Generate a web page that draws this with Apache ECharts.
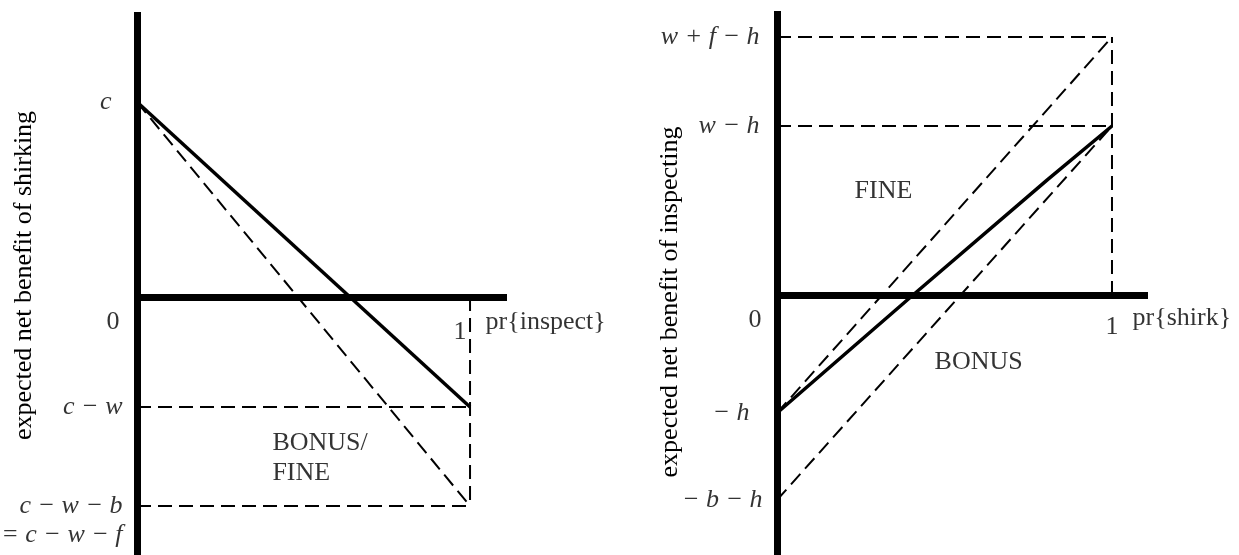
<!DOCTYPE html>
<html lang="en" style="height: 100%">
<head>
    <meta charset="utf-8">
</head>
<body style="height: 100%; margin: 0; background: #fff">
<div id="main" style="width: 1239px; height: 555px"></div>

<script type="text/javascript" src="https://cdn.jsdelivr.net/npm/echarts@6/dist/echarts.min.js"></script>

<script type="text/javascript">
    // left panel: pr{inspect} -> expected net benefit of shirking
    var inspectX = [0, 1];
    var shirkNet = [6.5, -3.667];          // solid line, c -> c - w
    var shirkNetFine = [6.5, -6.967];      // dashed line, c -> c - w - b
    var leftLevels = [6.5, -3.667, -6.967];
    var leftLevelLabels = ['c', 'c − w', 'c − w − b'];
    var leftExtraLabel = '= c − w − f';

    // right panel: pr{shirk} -> expected net benefit of inspecting
    var shirkX = [0, 0.406, 0.806, 1];
    var inspectNet = [-3.933, 0, 3.83, 5.633];   // solid
    var fineX = [0, 1];
    var inspectNetFine = [-3.933, 8.6];    // dashed, -h -> w + f - h
    var inspectNetBonus = [-6.833, 5.633]; // dashed, -b - h -> w - h
    var rightLevels = [8.6, 5.633, -3.933, -6.833];
    var rightLevelLabels = ['w + f − h', 'w − h', '− h', '− b − h'];

    var FONT = 'Liberation Serif';
    var solid = { color: '#000', width: 3.5 };
    var dashed = { color: '#000', width: 2, type: [14, 7] };

    function zip(xs, ys) {
        return xs.map(function (x, i) { return [x, ys[i]]; });
    }

    function line(grid, data, style) {
        return {
            type: 'line',
            xAxisIndex: grid,
            yAxisIndex: grid,
            data: data,
            showSymbol: false,
            lineStyle: style,
            silent: true,
            z: 3
        };
    }

    function note(x, y, text, label) {
        return { value: [x, y], name: text, label: label };
    }

    function notes(grid, data) {
        return {
            type: 'scatter',
            xAxisIndex: grid,
            yAxisIndex: grid,
            symbolSize: 1,
            itemStyle: { color: 'rgba(0,0,0,0)' },
            silent: true,
            z: 5,
            label: {
                show: true,
                formatter: '{b}',
                color: '#000',
                fontFamily: FONT,
                fontSize: 26
            },
            data: data
        };
    }

    var italic = function (pos, dist, extra) {
        var l = { position: pos, distance: dist, fontStyle: 'italic' };
        for (var k in extra) l[k] = extra[k];
        return l;
    };

    // padding shifts the rotated name along the axis
    function axisPair(grid, xmax, ymin, ymax, name, nameGap, namePad) {
        var lineStyle = { color: '#000', width: 7, cap: 'butt' };
        return {
            x: {
                type: 'value', gridIndex: grid, min: 0, max: xmax,
                axisLine: { show: true, onZero: true, lineStyle: lineStyle },
                axisTick: { show: false }, axisLabel: { show: false }, splitLine: { show: false }
            },
            y: {
                type: 'value', gridIndex: grid, min: ymin, max: ymax,
                name: name, nameLocation: 'middle', nameGap: nameGap, nameRotate: 90,
                nameTextStyle: { fontFamily: FONT, fontSize: 26, color: '#000', padding: namePad },
                axisLine: { show: true, onZero: true, lineStyle: lineStyle },
                axisTick: { show: false }, axisLabel: { show: false }, splitLine: { show: false }
            }
        };
    }

    var a0 = axisPair(0, 1.111, -8.6, 9.5, 'expected net benefit of shirking', 100, [0, 0, 0, 16]);
    var a1 = axisPair(1, 1.1075, -8.667, 9.467, 'expected net benefit of inspecting', 94, [0, 38, 0, 0]);

    var leftNotes = [
        note(0, leftLevels[0], leftLevelLabels[0], italic('left', 25)),
        note(0, leftLevels[1], leftLevelLabels[1], italic('left', 14)),
        note(0, leftLevels[2], leftLevelLabels[2], italic('left', 14)),
        note(0, leftLevels[2], leftExtraLabel, italic('left', 14, { offset: [0, 29] })),
        note(0, 0, '0', { position: 'left', distance: 17, offset: [0, 25] }),
        note(1, 0, '1', { position: 'left', distance: 3, offset: [0, 35] }),
        note(1, 0, 'pr{inspect}', { position: 'right', distance: 15, offset: [0, 25] }),
        note(0.405, -5.37, 'BONUS/\nFINE', { position: 'right', distance: 0, align: 'left', lineHeight: 30 })
    ];

    var rightNotes = [
        note(0, rightLevels[0], rightLevelLabels[0], italic('left', 17)),
        note(0, rightLevels[1], rightLevelLabels[1], italic('left', 17)),
        note(0, rightLevels[2], rightLevelLabels[2], italic('left', 27)),
        note(0, rightLevels[3], rightLevelLabels[3], italic('left', 14)),
        note(0, 0, '0', { position: 'left', distance: 15, offset: [0, 25] }),
        note(1, 0, '1', { position: 'bottom', distance: 19 }),
        note(1, 0, 'pr{shirk}', { position: 'right', distance: 20, offset: [0, 23] }),
        note(0.23, 3.47, 'FINE', { position: 'right', distance: 0 }),
        note(0.469, -2.23, 'BONUS', { position: 'right', distance: 0 })
    ];

    var chartDom = document.getElementById('main');
    var myChart = echarts.init(chartDom);
    var option = {
        animation: false,
        backgroundColor: '#fff',
        grid: [
            { left: 137, top: 12, width: 370, height: 543 },
            { left: 777, top: 11, width: 371, height: 544 }
        ],
        xAxis: [a0.x, a1.x],
        yAxis: [a0.y, a1.y],
        series: [
            // left panel
            line(0, [[0, leftLevels[1]], [1, leftLevels[1]]], dashed),
            line(0, [[0, leftLevels[2]], [1, leftLevels[2]]], dashed),
            line(0, [[1, 0], [1, leftLevels[2]]], dashed),
            line(0, zip(inspectX, shirkNetFine), dashed),
            line(0, zip(inspectX, shirkNet), solid),
            notes(0, leftNotes),
            // right panel
            line(1, [[0, rightLevels[0]], [1, rightLevels[0]]], dashed),
            line(1, [[0, rightLevels[1]], [1, rightLevels[1]]], dashed),
            line(1, [[1, 0], [1, rightLevels[0]]], dashed),
            line(1, zip(fineX, inspectNetFine), dashed),
            line(1, zip(fineX, inspectNetBonus), dashed),
            line(1, zip(shirkX, inspectNet), solid),
            notes(1, rightNotes)
        ]
    };

    option && myChart.setOption(option);
</script>
</body>
</html>
